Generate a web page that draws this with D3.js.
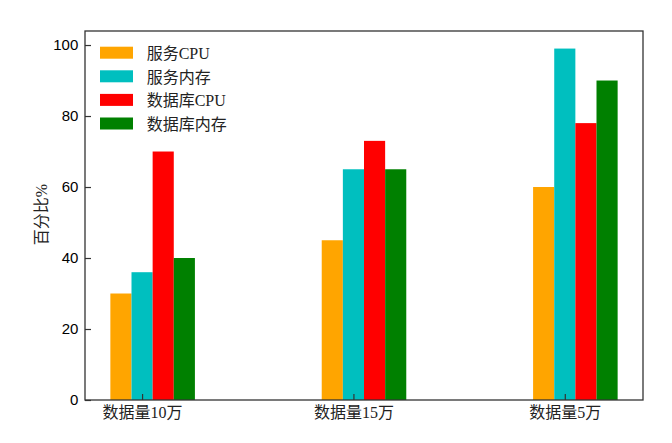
<!DOCTYPE html>
<html>
<head>
<meta charset="utf-8">
<script src="https://cdn.jsdelivr.net/npm/d3@7"></script>
<style>
  body { margin: 0; background: #fff; }
  svg { display: block; }
</style>
</head>
<body>
<svg id="chart" width="672" height="443"></svg>
<script>
const categories = ["数据量10万", "数据量15万", "数据量5万"];
const seriesNames = ["服务CPU", "服务内存", "数据库CPU", "数据库内存"];
const serviceCPU = [30, 45, 60];
const serviceMem = [36, 65, 99];
const dbCPU = [70, 73, 78];
const dbMem = [40, 65, 90];
const yTicks = [0, 20, 40, 60, 80, 100];
const colors = ["#FFA500", "#00BFBF", "#FF0000", "#008000"];
const seriesValues = [serviceCPU, serviceMem, dbCPU, dbMem];

const barWidth = 0.1;
const offsets = [-0.1, 0, 0.1, 0.2];

const plotL = 85, plotR = 643, plotT = 31, plotB = 400;
const svg = d3.select("#chart");

const x = d3.scaleLinear().domain([-0.27, 2.37]).range([plotL, plotR]);
const y = d3.scaleLinear().domain([0, 103.95]).range([plotB, plotT]);

const cjkFont = "'Liberation Serif', 'Noto Sans CJK SC', serif";

// bars
seriesValues.forEach((vals, si) => {
  svg.append("g").selectAll("rect")
    .data(vals)
    .join("rect")
    .attr("x", (d, i) => x(i + offsets[si] - barWidth / 2))
    .attr("width", (d, i) => x(i + offsets[si] + barWidth / 2) - x(i + offsets[si] - barWidth / 2))
    .attr("y", d => y(d))
    .attr("height", d => y(0) - y(d))
    .attr("fill", colors[si]);
});

// axes
const yAxis = d3.axisLeft(y).tickValues(yTicks).tickSize(-6).tickPadding(6.7);
const gy = svg.append("g").attr("transform", `translate(${plotL},0)`).call(yAxis);
gy.select(".domain").remove();
gy.selectAll("line").attr("stroke", "#333").attr("stroke-width", 1.2);
gy.selectAll("text").attr("font-family", "'Liberation Sans', Arial, sans-serif")
  .attr("font-size", 15).attr("fill", "#000");

const xAxis = d3.axisBottom(x).tickValues([0, 1, 2]).tickFormat(i => categories[i]).tickSize(-6).tickPadding(7);
const gx = svg.append("g").attr("transform", `translate(0,${plotB})`).call(xAxis);
gx.select(".domain").remove();
gx.selectAll("line").attr("stroke", "#333").attr("stroke-width", 1.2);
gx.selectAll("text").attr("font-family", cjkFont)
  .attr("font-size", 16).attr("fill", "#222");

// frame
svg.append("rect")
  .attr("x", plotL).attr("y", plotT)
  .attr("width", plotR - plotL).attr("height", plotB - plotT)
  .attr("fill", "none").attr("stroke", "#333").attr("stroke-width", 1.3);

// y label
svg.append("text")
  .attr("transform", `translate(41,${(plotT + plotB) / 2 - 1}) rotate(-90)`)
  .attr("text-anchor", "middle")
  .attr("dominant-baseline", "central")
  .attr("font-family", cjkFont)
  .attr("font-size", 16)
  .attr("fill", "#222")
  .text("百分比%");

// legend
const legend = svg.append("g");
seriesNames.forEach((name, i) => {
  const cy = 52.7 + i * 23.6;
  legend.append("rect")
    .attr("x", 100).attr("y", cy - 6)
    .attr("width", 33).attr("height", 12)
    .attr("fill", colors[i]);
  legend.append("text")
    .attr("x", 146.7).attr("y", cy + 1)
    .attr("dominant-baseline", "central")
    .attr("font-family", cjkFont)
    .attr("font-size", 16)
    .attr("fill", "#222")
    .text(name);
});
</script>
</body>
</html>
